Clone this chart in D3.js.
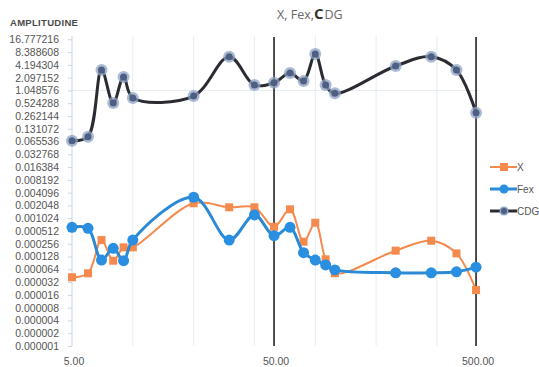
<!DOCTYPE html>
<html><head><meta charset="utf-8">
<script src="https://cdn.jsdelivr.net/npm/d3@7"></script>
<style>body{margin:0;background:#fff}svg{display:block}</style>
</head><body>
<script>
const freqs = [5,6,7,8,9,10,20,30,40,50,60,70,80,90,100,200,300,400,500];
const seriesX   = [4.16e-5,5.16e-5,3.13e-4,1.02e-4,2.11e-4,2.11e-4,2.30e-3,1.85e-3,1.85e-3,6.44e-4,1.66e-3,2.86e-4,8.03e-4,1.10e-4,5.16e-5,1.76e-4,3.02e-4,1.52e-4,2.08e-5];
const seriesFex = [6.26e-4,5.92e-4,1.06e-4,2.0e-4,1.02e-4,3.13e-4,3.19e-3,3.13e-4,1.22e-3,3.96e-4,6.26e-4,1.58e-4,1.06e-4,8.1e-5,6.2e-5,5.3e-5,5.3e-5,5.6e-5,7.2e-5];
const seriesCDG = [0.068,0.085,3.18,0.528,2.17,0.697,0.773,6.53,1.40,1.59,2.69,1.75,7.56,1.40,0.894,3.94,6.53,3.18,0.314];
const yTicks = ["16.777216","8.388608","4.194304","2.097152","1.048576","0.524288","0.262144","0.131072","0.065536","0.032768","0.016384","0.008192","0.004096","0.002048","0.001024","0.000512","0.000256","0.000128","0.000064","0.000032","0.000016","0.000008","0.000004","0.000002","0.000001"];
const xGrid = [10,20,40,80,160,320];
const xLabels = [5,50,500];
const markerLines = [50,500];
const seriesNames = ["X","Fex","CDG"];

const W=539,H=367;
const svg=d3.select("body").append("svg").attr("width",W).attr("height",H);
const x=d3.scaleLog().domain([5,520]).range([72,479.5]);
const y=d3.scaleLog().base(2).domain([0.000001,16.777216]).range([346,39.3]);

svg.append("g").selectAll("line").data(xGrid).join("line")
 .attr("x1",d=>x(d)).attr("x2",d=>x(d)).attr("y1",36).attr("y2",346)
 .attr("stroke","#e6ecf4").attr("stroke-width",1);
svg.append("line").attr("x1",72).attr("x2",479).attr("y1",y(1.048576)).attr("y2",y(1.048576))
 .attr("stroke","#e6ecf4");

const yAxis=d3.axisLeft(y).tickValues(yTicks.map(Number)).tickFormat((d,i)=>yTicks[i]).tickSize(4).tickPadding(9);
const ga=svg.append("g").attr("transform","translate(72,0)").call(yAxis);
ga.select(".domain").attr("stroke","#c9d5e5").attr("d","M0,36V346");
ga.selectAll(".tick line").attr("stroke","#c9d5e5");
ga.selectAll("text").attr("fill","#555").attr("font-family","Liberation Sans, Arial").attr("font-size","10.5px");

svg.append("text").attr("x",10).attr("y",26).text("AMPLITUDINE")
 .attr("font-family","Liberation Sans, Arial").attr("font-weight","bold").attr("font-size","9.5px").attr("letter-spacing","0.3px").attr("fill","#4a4a4a");

const t=svg.append("text").attr("x",277).attr("y",19).attr("font-family","Open Sans, Liberation Sans").attr("font-size","12.5px").attr("fill","#666");
t.append("tspan").text("X, Fex,");
t.append("tspan").text("C").attr("font-weight","bold").attr("fill","#333").attr("font-size","15px");
t.append("tspan").text("DG").attr("dx","1");

svg.append("g").selectAll("line").data(markerLines).join("line")
 .attr("x1",d=>x(d)).attr("x2",d=>x(d)).attr("y1",37).attr("y2",346)
 .attr("stroke","#222").attr("stroke-width",1.6);

svg.append("g").selectAll("text").data(xLabels).join("text")
 .attr("x",d=>x(d)+2).attr("y",365).attr("text-anchor","middle").text(d=>d.toFixed(2))
 .attr("font-family","Liberation Sans, Arial").attr("font-size","10.5px").attr("fill","#555");

const line=d3.line().curve(d3.curveCatmullRom).x((d,i)=>x(freqs[i])).y(d=>y(d));

svg.append("path").attr("d",line(seriesX)).attr("fill","none").attr("stroke","#f48a4e").attr("stroke-width",2);
svg.append("g").selectAll("rect").data(seriesX).join("rect")
 .attr("x",(d,i)=>x(freqs[i])-4).attr("y",d=>y(d)-4).attr("width",8).attr("height",8).attr("fill","#f48a4e");

svg.append("path").attr("d",line(seriesFex)).attr("fill","none").attr("stroke","#2a8ad6").attr("stroke-width",3);
svg.append("g").selectAll("circle").data(seriesFex).join("circle")
 .attr("cx",(d,i)=>x(freqs[i])).attr("cy",d=>y(d)).attr("r",5.5).attr("fill","#2a8fe0");

svg.append("path").attr("d",line(seriesCDG)).attr("fill","none").attr("stroke","#2a2b33").attr("stroke-width",3);
const cg=svg.append("g");
cg.selectAll("circle.h").data(seriesCDG).join("circle").attr("class","h")
 .attr("cx",(d,i)=>x(freqs[i])).attr("cy",d=>y(d)).attr("r",6).attr("fill","#8fa3c4").attr("opacity",0.75);
cg.selectAll("circle.c").data(seriesCDG).join("circle").attr("class","c")
 .attr("cx",(d,i)=>x(freqs[i])).attr("cy",d=>y(d)).attr("r",3.5).attr("fill","#4d5f82");

const lg=svg.append("g");
const ly=[167,189,211];
const cols=["#f48a4e","#2a8ad6","#2a2b33"];
seriesNames.forEach((n,i)=>{
  lg.append("line").attr("x1",490).attr("x2",517).attr("y1",ly[i]).attr("y2",ly[i]).attr("stroke",cols[i]).attr("stroke-width",i==0?2:3);
  if(i==0) lg.append("rect").attr("x",500).attr("y",ly[i]-4).attr("width",8).attr("height",8).attr("fill",cols[0]);
  else if(i==1) lg.append("circle").attr("cx",504).attr("cy",ly[i]).attr("r",4.5).attr("fill","#2a8fe0");
  else { lg.append("circle").attr("cx",504).attr("cy",ly[i]).attr("r",4.5).attr("fill","#8fa3c4");
         lg.append("circle").attr("cx",504).attr("cy",ly[i]).attr("r",3).attr("fill","#4d5f82"); }
  lg.append("text").attr("x",517).attr("y",ly[i]+3.5).text(n).attr("font-family","Liberation Sans Narrow, Liberation Sans, Arial").attr("font-size","10px").attr("fill","#555");
});
</script>
</body></html>
